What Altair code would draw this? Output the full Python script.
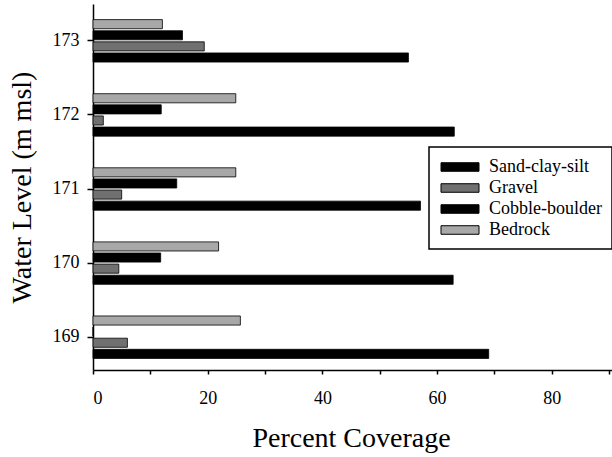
import altair as alt
import pandas as pd

# ---- data ----
levels = [173, 172, 171, 170, 169]
categories = ["Sand-clay-silt", "Gravel", "Cobble-boulder", "Bedrock"]
sand_clay_silt = [55.0, 63.0, 57.1, 62.8, 69.0]
gravel = [19.4, 1.8, 5.0, 4.5, 6.0]
cobble_boulder = [15.6, 11.9, 14.6, 11.8, 0.0]
bedrock = [12.1, 24.9, 24.9, 21.9, 25.7]
x_tick_values = [0, 10, 20, 30, 40, 50, 60, 70, 80, 90]

series = [sand_clay_silt, gravel, cobble_boulder, bedrock]
rows = []
for i, lv in enumerate(levels):
    for cat, vals in zip(categories, series):
        rows.append({"level": str(lv), "category": cat, "pct": vals[i]})
df = pd.DataFrame(rows)

FONT = "'Times New Roman', 'Liberation Serif', 'DejaVu Serif', serif"
colors = ["#000000", "#707070", "#000000", "#a8a8a8"]
stack_order = ["Bedrock", "Cobble-boulder", "Gravel", "Sand-clay-silt"]

chart = (
    alt.Chart(df)
    .mark_bar(stroke="black", strokeWidth=0.8)
    .encode(
        x=alt.X(
            "pct:Q",
            scale=alt.Scale(domain=[0, 90.5], nice=False, zero=True),
            axis=alt.Axis(
                values=x_tick_values,
                labelExpr="datum.value % 20 === 0 ? datum.label : ''",
                title="Percent Coverage",
                titleFont=FONT,
                titleFontSize=28,
                titleFontWeight="normal",
                titleColor="black",
                titleX=258,
                titleY=76,
                titleAlign="center",
                titleBaseline="alphabetic",
                labelFont=FONT,
                labelFontSize=18,
                labelColor="black",
                labelPadding=15,
                tickSize=4,
                tickWidth=1.5,
                tickColor="black",
                domainColor="black",
                domainWidth=1.5,
                grid=False,
            ),
        ),
        y=alt.Y(
            "level:N",
            sort=[str(l) for l in levels],
            scale=alt.Scale(paddingInner=0.4, paddingOuter=0.17, align=0.58),
            axis=alt.Axis(
                title="Water Level (m msl)",
                titleFont=FONT,
                titleFontSize=28,
                titleFontWeight="normal",
                titleColor="black",
                titleAngle=270,
                titleX=-63,
                titleY=183,
                titleAlign="center",
                titleBaseline="alphabetic",
                labelFont=FONT,
                labelFontSize=18,
                labelColor="black",
                labelPadding=8,
                tickSize=6,
                tickWidth=1.5,
                tickColor="black",
                domainColor="black",
                domainWidth=1.5,
                grid=False,
            ),
        ),
        yOffset=alt.YOffset(
            "category:N",
            sort=stack_order,
            scale=alt.Scale(paddingInner=0.18, paddingOuter=0.09),
        ),
        color=alt.Color(
            "category:N",
            scale=alt.Scale(domain=categories, range=colors),
            legend=alt.Legend(
                title=None,
                orient="none",
                legendX=336,
                legendY=143,
                symbolType="M-2,-0.45H2V0.45H-2Z",
                symbolSize=361,
                symbolStrokeWidth=1,
                symbolStrokeColor="black",
                symbolOpacity=1,
                symbolOffset=11,
                labelOffset=19,
                labelFont=FONT,
                labelFontSize=18,
                labelColor="black",
                rowPadding=2,
                padding=10,
                strokeColor="black",
                fillColor="white",
                cornerRadius=0,
            ),
        ),
    )
    .properties(
        width=519,
        height=366,
        autosize=alt.AutoSizeParams(type="none"),
        padding={"left": 93, "top": 4, "right": 0, "bottom": 87},
        background="white",
    )
    .configure_view(stroke=None)
    .configure_legend(strokeWidth=1.5)
)

chart.save("out.html", embed_options={"renderer": "svg", "actions": False})
